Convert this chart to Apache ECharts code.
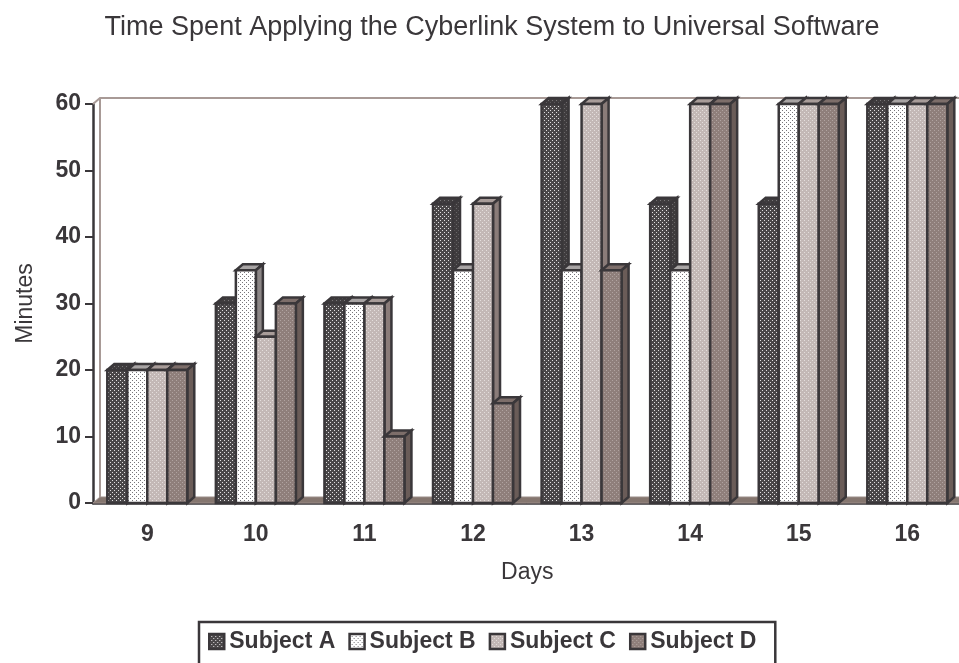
<!DOCTYPE html>
<html>
<head>
<meta charset="utf-8">
<style>html,body{margin:0;padding:0;background:#fff;overflow:hidden}#main{width:959px;height:663px}</style>
<script src="https://cdn.jsdelivr.net/npm/echarts@6/dist/echarts.min.js"></script>
</head>
<body>
<div id="main"></div>
<script>
var days = ['9', '10', '11', '12', '13', '14', '15', '16'];
var subjectA = [20, 30, 30, 45, 60, 45, 45, 60];
var subjectB = [20, 35, 30, 35, 35, 35, 60, 60];
var subjectC = [20, 25, 30, 45, 60, 60, 60, 60];
var subjectD = [20, 30, 10, 15, 35, 60, 60, 60];

var font = '"Liberation Sans", Arial, sans-serif';
var ink = '#3a373a';
var depthX = 7, depthY = 6;

// small dotted tile, the bars in the picture are hatched with these
function dots(bg, dot) {
    var c = document.createElement('canvas');
    c.width = 4; c.height = 4;
    var g = c.getContext('2d');
    g.fillStyle = bg;
    g.fillRect(0, 0, 4, 4);
    g.fillStyle = dot;
    g.fillRect(0, 0, 1, 1);
    g.fillRect(2, 2, 1, 1);
    return { image: c, repeat: 'repeat' };
}

var looks = [
    { name: 'Subject A', data: subjectA, face: dots('#4a4749', '#e2e0e1'), top: dots('#3f3c3e', '#7a7779'), side: dots('#3f3c3e', '#6a6769') },
    { name: 'Subject B', data: subjectB, face: dots('#ffffff', '#77757a'), top: '#a8a4a4', side: '#8c8686' },
    { name: 'Subject C', data: subjectC, face: dots('#c3b8b6', '#e4dedc'), top: '#a89c99', side: '#8a7c79' },
    { name: 'Subject D', data: subjectD, face: dots('#8f7f7b', '#b0a3a0'), top: '#7d6e6a', side: '#6a5c58' }
];

function barItem(i, look) {
    return function (params, api) {
        var base = api.coord([api.value(0), 0]);
        var top = api.coord([api.value(0), api.value(1)]);
        var w = 20;
        var x = base[0] - 40 + i * w;
        var lineStyle = { stroke: ink, lineWidth: 2.5 };
        return {
            type: 'group',
            children: [
                { type: 'polygon', shape: { points: [[x, top[1]], [x + depthX, top[1] - depthY], [x + w + depthX, top[1] - depthY], [x + w, top[1]]] },
                  style: Object.assign({ fill: look.top }, lineStyle) },
                { type: 'polygon', shape: { points: [[x + w, top[1]], [x + w + depthX, top[1] - depthY], [x + w + depthX, base[1] - depthY], [x + w, base[1]]] },
                  style: Object.assign({ fill: look.side }, lineStyle) },
                { type: 'rect', shape: { x: x, y: top[1], width: w, height: base[1] - top[1] },
                  style: Object.assign({ fill: look.face }, lineStyle) }
            ]
        };
    };
}

// back wall and floor of the fake 3d box
function wallItem(params) {
    var r = params.coordSys;
    var b = r.y + r.height;
    return {
        type: 'group',
        children: [
            { type: 'polygon', shape: { points: [[r.x, b], [r.x + depthX, b - depthY], [r.x + r.width + depthX, b - depthY], [r.x + r.width, b]] },
              style: { fill: '#85766f', stroke: '#9a8c88', lineWidth: 1 } },
            { type: 'polyline', shape: { points: [[r.x, r.y], [r.x + depthX, r.y - depthY], [r.x + r.width, r.y - depthY]] },
              style: { fill: 'none', stroke: '#a89a96', lineWidth: 2 } },
            { type: 'line', shape: { x1: r.x + depthX, y1: b - depthY, x2: r.x + depthX, y2: r.y - depthY },
              style: { stroke: '#a89a96', lineWidth: 2 } }
        ]
    };
}

var series = [{
    type: 'custom',
    name: 'wall',
    silent: true,
    renderItem: wallItem,
    data: [[0, 0]],
    encode: { x: 0, y: 1 },
    z: 1
}];
looks.forEach(function (look, i) {
    series.push({
        type: 'custom',
        name: look.name,
        renderItem: barItem(i, look),
        itemStyle: { color: look.face, borderColor: ink, borderWidth: 2.5 },
        data: look.data.map(function (v, k) { return [k, v]; }),
        encode: { x: 0, y: 1 },
        z: 2 + i
    });
});

var chart = echarts.init(document.getElementById('main'), null, { renderer: 'canvas' });
chart.setOption({
    animation: false,
    backgroundColor: '#fff',
    textStyle: { fontFamily: font },
    title: {
        text: 'Time Spent Applying the Cyberlink System to Universal Software',
        left: 487,
        top: 9,
        textAlign: 'center',
        textStyle: { fontFamily: font, fontSize: 27, fontWeight: 'normal', color: ink }
    },
    legend: {
        data: ['Subject A', 'Subject B', 'Subject C', 'Subject D'],
        left: 199,
        top: 622,
        itemWidth: 15,
        itemHeight: 15,
        itemGap: 13,
        icon: 'rect',
        padding: [8, 19, 40, 9],
        itemStyle: { borderColor: ink, borderWidth: 2.5 },
        borderColor: ink,
        borderWidth: 2.5,
        textStyle: { fontFamily: font, fontSize: 23, fontWeight: 'bold', color: ink }
    },
    grid: { left: 93, right: -2.6, top: 104, height: 399, outerBoundsMode: 'none' },
    xAxis: {
        type: 'category',
        data: days,
        name: 'Days',
        nameLocation: 'middle',
        nameGap: 58,
        nameTextStyle: { fontFamily: font, fontSize: 23, color: ink },
        axisLine: { lineStyle: { color: ink, width: 2.5 } },
        axisTick: { length: 9, lineStyle: { color: ink, width: 2 } },
        axisLabel: { fontFamily: font, fontSize: 23, fontWeight: 'bold', color: ink, margin: 20 }
    },
    yAxis: {
        type: 'value',
        min: 0,
        max: 60,
        interval: 10,
        name: 'Minutes',
        nameLocation: 'middle',
        nameGap: 56,
        nameTextStyle: { fontFamily: font, fontSize: 23, color: ink },
        axisLine: { show: true, lineStyle: { color: ink, width: 2.5 } },
        axisTick: { show: true, length: 8, lineStyle: { color: ink, width: 2 } },
        axisLabel: { fontFamily: font, fontSize: 23, fontWeight: 'bold', color: ink, margin: 12 },
        splitLine: { show: false }
    },
    series: series
});
</script>
</body>
</html>
